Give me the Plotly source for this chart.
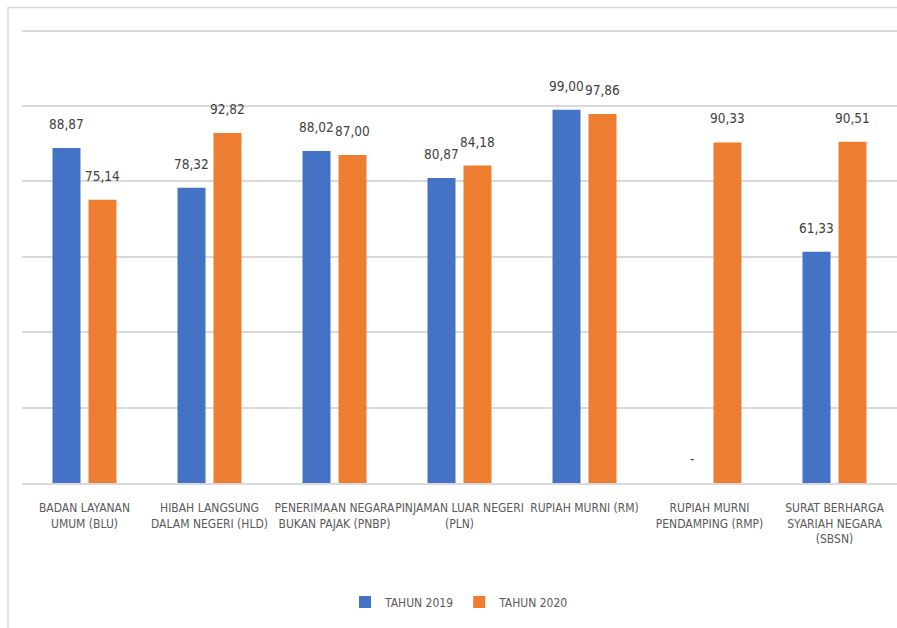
import plotly.graph_objects as go

categories = [
    "BADAN LAYANAN<br>UMUM (BLU)",
    "HIBAH LANGSUNG<br>DALAM NEGERI (HLD)",
    "PENERIMAAN NEGARA<br>BUKAN PAJAK (PNBP)",
    "PINJAMAN LUAR NEGERI<br>(PLN)",
    "RUPIAH MURNI (RM)",
    "RUPIAH MURNI<br>PENDAMPING (RMP)",
    "SURAT BERHARGA<br>SYARIAH NEGARA<br>(SBSN)",
]
tahun_2019 = [88.87, 78.32, 88.02, 80.87, 99.00, 0, 61.33]
tahun_2020 = [75.14, 92.82, 87.00, 84.18, 97.86, 90.33, 90.51]
series_names = ["TAHUN 2019", "TAHUN 2020"]
colors = ["#4472C4", "#ED7D31"]

FONT = "Liberation Sans Narrow, DejaVu Sans Condensed, Arial Narrow, sans-serif"


def fmt(v):
    if v == 0:
        return "-"
    return f"{v:.2f}".replace(".", ",")


fig = go.Figure()
for name, vals, col in zip(series_names, [tahun_2019, tahun_2020], colors):
    fig.add_trace(go.Bar(x=categories, y=vals, name=name, marker_color=col,
                         marker_line_width=0))

bargap = 0.424
offset = (1 - bargap) / 4
annotations = []
for s, vals in enumerate([tahun_2019, tahun_2020]):
    for i, v in enumerate(vals):
        annotations.append(dict(
            x=i + (-offset if s == 0 else offset), y=v, xref="x", yref="y",
            text=fmt(v), showarrow=False, yanchor="bottom", yshift=14,
            font=dict(family=FONT, size=13.5, color="#404040"),
        ))

ymax = 120.4
fig.update_layout(
    width=897, height=628,
    margin=dict(l=22, r=0, t=28.5, b=145),
    paper_bgcolor="white", plot_bgcolor="white",
    barmode="group", bargap=bargap, bargroupgap=0.222,
    font=dict(family=FONT, size=12, color="#595959"),
    legend=dict(orientation="h", x=0.5, xanchor="center", y=-0.262,
                yanchor="middle", font=dict(family=FONT, size=12, color="#595959"),
                itemwidth=30, tracegroupgap=0),
    annotations=annotations,
    shapes=[dict(type="rect", xref="paper", yref="paper",
                 x0=(8 - 22) / 875, x1=1.05, y0=-0.4, y1=(483 - 7) / (483 - 28.5),
                 line=dict(color="#d9d9d9", width=1.5), layer="below")],
    showlegend=True,
)
fig.update_xaxes(showgrid=False, showline=True, linecolor="#d9d9d9", linewidth=1.5,
                 ticks="", tickfont=dict(family=FONT, size=12, color="#595959"),
                 tickangle=0, ticklabelstandoff=13)
fig.update_yaxes(range=[0, ymax], dtick=20, showgrid=True, gridcolor="#d9d9d9",
                 gridwidth=1.5, showticklabels=False, zeroline=False, ticks="")

fig.write_html("out.html")
